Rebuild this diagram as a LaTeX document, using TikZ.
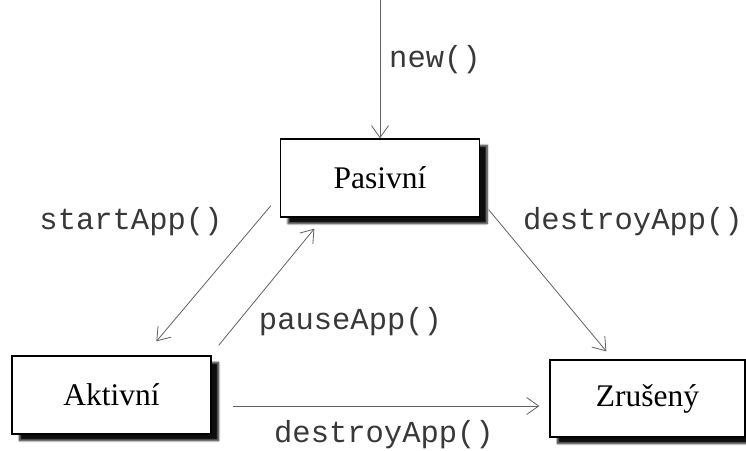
\documentclass[tikz,border=0pt]{standalone}
\usepackage{fontspec}
\setmainfont{Liberation Serif}
\setmonofont{Liberation Mono}
\usepackage{tikz}
\usetikzlibrary{arrows.meta,positioning,shadows.blur}

\begin{document}
\begin{tikzpicture}[x=1pt,y=-1pt,%
  trans/.style={draw=black!62,line width=.8pt,-{Straight Barb[length=12pt,width=17pt]}},%
  lbl/.style={font=\fontsize{30.5}{36}\selectfont\ttfamily,text=black!78}]%
\useasboundingbox (0,0) rectangle (746,450);
\begin{scope}[shape=rectangle,minimum width=199pt,minimum height=78pt,inner sep=0pt]%
\tikzstyle{every node}=[draw,line width=1.3pt,fill=white,font=\fontsize{31.5}{38}\selectfont,%
  blur shadow={shadow xshift=7.5pt,shadow yshift=-6.5pt,shadow blur radius=2pt,shadow blur steps=6,shadow opacity=95}] %%
\node (pasivni) at (380,178)  {Pasivní}; %%
\node (aktivni) at (111.5,395)  {Aktivní}; %%
\node[minimum width=195pt,minimum height=77pt] (zruseny) at (647.5,398.5)  {Zrušený}; %%
\end{scope}
\coordinate (start) at (380,0);
\node[lbl] (lnew) at (435,60) {new()};%
\node[lbl] (lstart) at (131,222) {startApp()};%
\node[lbl] (lpause) at (350.5,322) {pauseApp()};%
\node[lbl] (ldestroy) at (633,222) {destroyApp()};%
\node[lbl] (ldestroyb) at (384,435) {destroyApp()};%
\draw[trans] (start)--(pasivni.north); %%
\draw[trans] ([shift={(-9,-12)}]pasivni.south west)--([shift={(145,-14)}]aktivni.north west); %%
\draw[trans] ([shift={(7,-10)}]aktivni.north east)--([shift={(34.5,11)}]pasivni.south west); %%
\draw[trans] ([shift={(8.5,-8)}]pasivni.south east)--([shift={(57,-8)}]zruseny.north west); %%
\draw[trans] ([shift={(21,11)}]aktivni.east)--([shift={(-10,7.5)}]zruseny.west); %%
\end{tikzpicture}
\end{document}
